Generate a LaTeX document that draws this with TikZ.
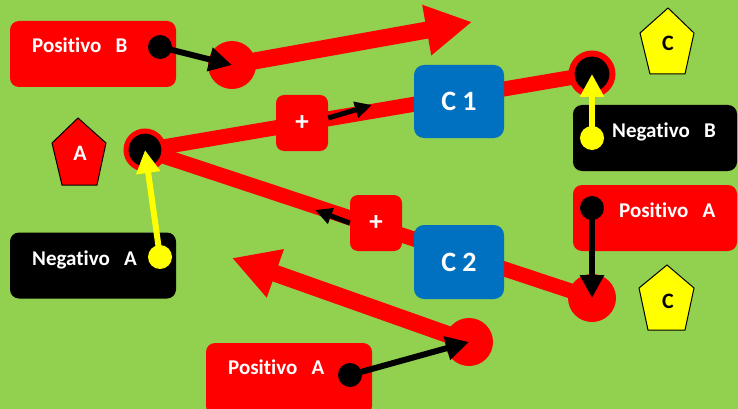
\documentclass[tikz,border=0pt]{standalone}
\usepackage{fontspec}
\setmainfont{Carlito}[Ligatures=NoCommon]
\usetikzlibrary{arrows.meta}
\definecolor{bggreen}{HTML}{92D050}
\definecolor{cblue}{HTML}{0070C0}
\definecolor{cred}{HTML}{FF0000}
\definecolor{cyel}{HTML}{FFFF00}
\pgfdeclarelayer{back}
\pgfdeclarelayer{wires}
\pgfsetlayers{back,wires,main}
\tikzset{
  lbox/.style={rounded corners=9pt, inner sep=0pt, minimum width=166pt, minimum height=66pt},
  lbl/.style={anchor=base west, inner sep=0pt, text=white, font=\fontsize{21}{25}\selectfont\bfseries},
  cbox/.style={fill=cblue, rounded corners=10pt, inner sep=0pt, minimum width=90pt, minimum height=74pt, text=white, font=\fontsize{28}{32}\selectfont\bfseries},
  pbox/.style={fill=cred, rounded corners=8pt, inner sep=0pt, minimum width=52pt, minimum height=56pt, text=white, font=\fontsize{27}{30}\selectfont\bfseries},
  wire/.style={draw=cred, line width=15pt},
  bigarrow/.style={draw=cred, line width=17pt, -{Triangle[length=46pt,width=48pt]}},
  ptr/.style={line width=6pt, -{Triangle[length=23pt,width=23pt]}},
  smallptr/.style={line width=5pt, -{Triangle[length=17pt,width=16pt]}},
  dotnode/.style={circle, inner sep=0pt, minimum size=24pt},
  target/.style={circle, fill=cred, inner sep=0pt, minimum size=48pt},
  pent/.style={draw=black, line width=1pt, line join=miter},
  pentlbl/.style={inner sep=0pt, anchor=base, font=\fontsize{22}{24}\selectfont\bfseries},
}
\begin{document}
\begin{tikzpicture}[x=1pt,y=-1pt]
\useasboundingbox (0,0) rectangle (738,409);
\begin{pgfonlayer}{back}
\fill[bggreen] (0,0) rectangle (738,409);
\end{pgfonlayer}

% junctions and targets
\node[circle, draw=cred, line width=5pt, fill=black, minimum size=38pt, inner sep=0pt] (jL) at (145,150) {};
\node[circle, draw=cred, line width=6pt, fill=black, minimum size=41pt, inner sep=0pt] (jR) at (592,74) {};
\node[target] (cB) at (232,65) {};
\node[target] (cAr) at (592,298) {};
\node[target] (cAb) at (469,342) {};
\coordinate (tipT) at (472,22);
\coordinate (tipB) at (232,258);
\coordinate (a1) at (372,105);
\coordinate (a2) at (315,210);

% label boxes
\node[lbox, fill=cred] (pB) at (93,54) {};
\node[lbl] (pBt) at (32,53) {Positivo\ \ \ B};
\node[lbox, fill=black] (nA) at (93,265.5) {};
\node[lbl] (nAt) at (32,265) {Negativo\ \ \ A};
\node[lbox, fill=black, minimum width=164pt] (nB) at (655,138) {};
\node[lbl] (nBt) at (612,137) {Negativo\ \ \ B};
\node[lbox, fill=cred, minimum width=164pt] (pAr) at (655,218) {};
\node[lbl] (pArt) at (619,217) {Positivo\ \ \ A};
\node[lbox, fill=cred, minimum height=72pt] (pAb) at (289,379) {};
\node[lbl] (pAbt) at (228,374) {Positivo\ \ \ A};

% pentagons
\filldraw[pent, fill=cred] (78,118) -- (106,143) -- (97,185) -- (62,185) -- (52,143) -- cycle;
\node[pentlbl, text=white] (pentA) at (80,160) {A};
\filldraw[pent, fill=cyel] (668,8) -- (694,33) -- (685,74) -- (650,74) -- (640,33) -- cycle;
\node[pentlbl, text=black] (pentC1) at (668,51) {C};
\filldraw[pent, fill=cyel] (667,265) -- (694,288) -- (685,330) -- (648,330) -- (639,288) -- cycle;
\node[pentlbl, text=black] (pentC2) at (668,308) {C};

% C boxes and plus boxes
\node[cbox, minimum height=73pt] (C1) at (459,101.5) {C 1};
\node[cbox] (C2) at (459,262) {C 2};
\node[pbox] (plus1) at (302,123) {+};
\node[pbox] (plus2) at (376,223) {+};

% dots
\node[dotnode, fill=black] (pBdot) at (160,47) {};
\node[dotnode, fill=cyel] (nAdot) at (160,257) {};
\node[dotnode, fill=cyel] (nBdot) at (592,138) {};
\node[dotnode, fill=black] (pArdot) at (592,208) {};
\node[dotnode, fill=black] (pAbdot) at (350,375) {};

% pointer arrows
\draw[ptr, black] (pBdot.center) -- (cB.center);
\draw[ptr, cyel] (nAdot.center) -- (jL.center);
\draw[ptr, cyel] (nBdot.center) -- (jR.center);
\draw[ptr, black] (pArdot.center) -- (cAr.center);
\draw[ptr, black] (pAbdot.center) -- (cAb.center);
\draw[smallptr, black] ([yshift=5pt]plus1.east) -- (a1);
\draw[smallptr, black] (plus2.west) -- (a2);

\begin{pgfonlayer}{wires}
\draw[wire] (jL.center) -- (jR.center);
\draw[wire] (jL.center) -- (cAr.center);
\draw[bigarrow] (cB.center) -- (tipT);
\draw[bigarrow] (cAb.center) -- (tipB);
\end{pgfonlayer}
\end{tikzpicture}
\end{document}
